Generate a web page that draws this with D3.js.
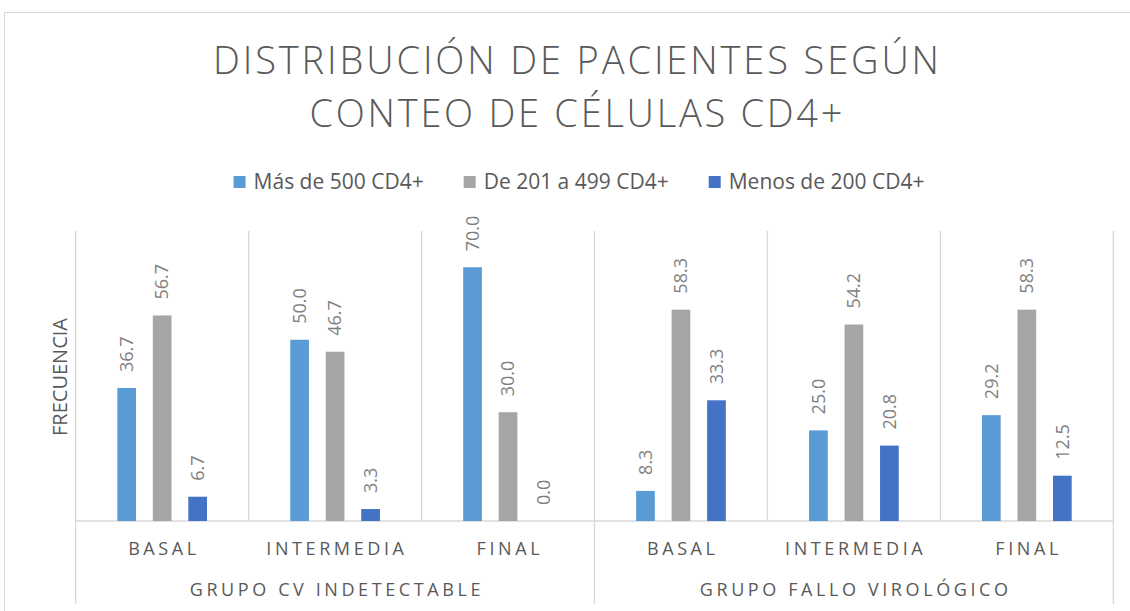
<!DOCTYPE html>
<html>
<head>
<meta charset="utf-8">
<script src="https://cdn.jsdelivr.net/npm/d3@7"></script>
<style>
  html, body { margin: 0; padding: 0; background: #fff; }
  svg { display: block; font-family: "Open Sans", "DejaVu Sans", sans-serif; }
</style>
</head>
<body>
<div id="chart"></div>
<script>
// chart data
const titleLines = ["DISTRIBUCIÓN DE PACIENTES SEGÚN", "CONTEO DE CÉLULAS CD4+"];
const groups = ["GRUPO CV INDETECTABLE", "GRUPO FALLO VIROLÓGICO"];
const phases = ["BASAL", "INTERMEDIA", "FINAL"];
const seriesNames = ["Más de 500 CD4+", "De 201 a 499 CD4+", "Menos de 200 CD4+"];
const mas500 = [36.7, 50.0, 70.0, 8.3, 25.0, 29.2];
const de201a499 = [56.7, 46.7, 30.0, 58.3, 54.2, 58.3];
const menos200 = [6.7, 3.3, 0.0, 33.3, 20.8, 12.5];
const yTitle = "FRECUENCIA";

const seriesValues = [mas500, de201a499, menos200];
const colors = ["#5B9BD5", "#A5A5A5", "#4472C4"];

// categories are group + phase combos
const categories = [];
groups.forEach((g) => phases.forEach((p) => categories.push(g + "|" + p)));

// chart dimensions
const width = 1130;
const height = 611;
const plotLeft = 75.7;
const plotRight = 1113.3;
const plotTop = 231;
const baseline = 521;
const bottomEdge = 604;

const svg = d3.create("svg").attr("width", width).attr("height", height);
// attach early so text can be measured for the legend
document.getElementById("chart").append(svg.node());

// outer chart border (right + bottom sit off-screen)
svg
  .append("rect")
  .attr("x", 4.5)
  .attr("y", 12.5)
  .attr("width", 1140)
  .attr("height", 640)
  .attr("fill", "none")
  .attr("stroke", "#d9d9d9");

// scales
const x0 = d3.scaleBand().domain(categories).range([plotLeft, plotRight]).padding(0);
const y = d3.scaleLinear().domain([0, 80]).range([baseline, plotTop]);

// bars inside one category: 3 bars ~18.7px wide on a 35.5px pitch
const pitch = 35.5;
const x1 = d3
  .scaleBand()
  .domain(seriesNames)
  .range([-pitch * 1.5, pitch * 1.5])
  .paddingInner(1 - 18.7 / pitch)
  .paddingOuter((1 - 18.7 / pitch) / 2);

// title
svg
  .append("g")
  .selectAll("text")
  .data(titleLines)
  .join("text")
  .attr("x", 576)
  .attr("y", (d, i) => 74 + i * 53)
  .attr("text-anchor", "middle")
  .attr("fill", "#595959")
  .attr("font-size", 38)
  .attr("font-weight", 300)
  .attr("textLength", (d, i) => (i === 0 ? 726 : 533))
  .attr("lengthAdjust", "spacing")
  .text((d) => d);

// legend
const legend = svg.append("g").attr("font-size", 21).attr("fill", "#595959");
const items = legend
  .selectAll("g")
  .data(seriesNames)
  .join("g");
items
  .append("rect")
  .attr("width", 12)
  .attr("height", 12)
  .attr("y", 176)
  .attr("fill", (d, i) => colors[i]);
items
  .append("text")
  .attr("x", 20)
  .attr("y", 189)
  .text((d) => d);
// lay legend items out side by side, centered
let lx = 0;
const offsets = [];
items.each(function () {
  offsets.push(lx);
  lx += 20 + this.querySelector("text").getComputedTextLength() + 40;
});
const legendWidth = lx - 40;
items.attr("transform", (d, i) => `translate(${579 - legendWidth / 2 + offsets[i]},0)`);

// vertical separators; group edges run down through the label rows
const edges = d3.range(categories.length + 1);
svg
  .append("g")
  .attr("stroke", "#d9d9d9")
  .attr("stroke-width", 1.3)
  .selectAll("line")
  .data(edges)
  .join("line")
  .attr("x1", (i) => (i < categories.length ? x0(categories[i]) : plotRight))
  .attr("x2", (i) => (i < categories.length ? x0(categories[i]) : plotRight))
  .attr("y1", plotTop)
  .attr("y2", (i) => (i % phases.length === 0 ? bottomEdge : baseline));

// baseline
svg
  .append("line")
  .attr("x1", plotLeft)
  .attr("x2", plotRight)
  .attr("y1", y(0))
  .attr("y2", y(0))
  .attr("stroke", "#d9d9d9")
  .attr("stroke-width", 1.3);

// bars
const barRows = [];
categories.forEach((c, ci) =>
  seriesNames.forEach((s, si) => barRows.push({ c, s, si, v: seriesValues[si][ci] })),
);
const cx = (d) => x0(d.c) + x0.bandwidth() / 2;

svg
  .append("g")
  .selectAll("rect")
  .data(barRows)
  .join("rect")
  .attr("x", (d) => cx(d) + x1(d.s))
  .attr("width", x1.bandwidth())
  .attr("y", (d) => y(d.v))
  .attr("height", (d) => y(0) - y(d.v))
  .attr("fill", (d) => colors[d.si]);

// data labels, rotated
svg
  .append("g")
  .attr("font-size", 18)
  .attr("fill", "#7f7f7f")
  .selectAll("text")
  .data(barRows)
  .join("text")
  .attr("transform", (d) => `translate(${cx(d) + x1(d.s) + x1.bandwidth() / 2},${y(d.v) - 16}) rotate(-90)`)
  .attr("dy", "0.35em")
  .text((d) => d.v.toFixed(1));

// phase labels
svg
  .append("g")
  .attr("font-size", 18)
  .attr("fill", "#595959")
  .attr("letter-spacing", 3.6)
  .attr("text-anchor", "middle")
  .selectAll("text")
  .data(categories)
  .join("text")
  .attr("x", (c) => x0(c) + x0.bandwidth() / 2 + 1.8)
  .attr("y", 554.5)
  .text((c) => c.split("|")[1]);

// group labels
svg
  .append("g")
  .attr("font-size", 18)
  .attr("fill", "#595959")
  .attr("letter-spacing", 3.6)
  .attr("text-anchor", "middle")
  .selectAll("text")
  .data(groups)
  .join("text")
  .attr("x", (g) => {
    const first = x0(g + "|" + phases[0]);
    const last = x0(g + "|" + phases[phases.length - 1]) + x0.bandwidth();
    return (first + last) / 2 + 1.8;
  })
  .attr("y", 596)
  .text((g) => g);

// y axis title
svg
  .append("text")
  .attr("transform", "translate(60,377) rotate(-90)")
  .attr("text-anchor", "middle")
  .attr("dy", "0.35em")
  .attr("font-size", 20)
  .attr("fill", "#595959")
  .text(yTitle);
</script>
</body>
</html>
